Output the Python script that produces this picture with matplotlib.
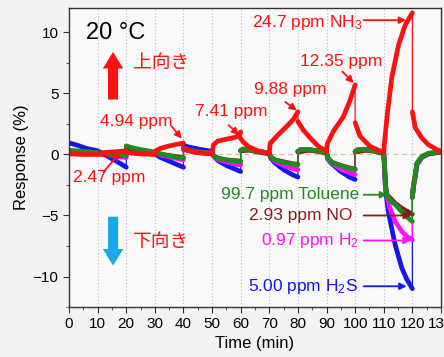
import numpy as np
import matplotlib
matplotlib.use("Agg")
import matplotlib.pyplot as plt

plt.rcParams['font.family'] = ['Liberation Sans', 'Noto Sans CJK JP', 'DejaVu Sans']
plt.rcParams['mathtext.fontset'] = 'custom'
plt.rcParams['mathtext.rm'] = 'Liberation Sans'
plt.rcParams['mathtext.it'] = 'Liberation Sans:italic'

# time (min) and response (%); repeated times = step jumps
nh3_t = [0, 5, 10, 12, 15, 18, 20, 20, 22, 25, 30,
         30.3, 32, 35, 38, 40, 40, 42, 45, 50,
         50.5, 52, 55, 58, 59.7, 60, 60, 61, 63, 66, 70,
         70.3, 72.6, 76.1, 78.5, 80, 80, 81.9, 84.3, 87.2, 90,
         90.3, 92.4, 95.9, 98, 100, 100, 101.7, 105.2, 110,
         110.2, 111.1, 112.8, 115.2, 117.5, 120, 120, 121, 123.3, 125.6, 128.6, 129.7]
nh3_v = [0.05, 0.0, 0.0, 0.15, 0.2, 0.25, 0.3, 0.2, 0.1, 0.05, 0.0,
         0.3, 0.5, 0.7, 0.85, 0.93, 0.5, 0.3, 0.15, 0.05,
         0.8, 1.1, 1.25, 1.4, 1.6, 1.85, 1.3, 1.0, 0.6, 0.3, 0.1,
         0.9, 1.5, 2.3, 2.9, 3.5, 2.7, 2.0, 1.35, 0.66, 0.25,
         0.9, 1.9, 3.1, 4.3, 5.7, 2.6, 1.5, 0.66, 0.15,
         0.8, 3.0, 6.3, 9.0, 10.6, 11.6, 3.5, 2.2, 1.35, 0.8, 0.4, 0.3]

tol_t = [0, 5, 10, 12, 15, 18, 20, 20, 22, 25, 30,
         32, 35, 38, 40, 40, 42, 45, 50,
         50.5, 52, 55, 58, 60, 60, 61, 63, 66, 70,
         70.5, 72, 75, 78, 80, 80, 81, 84, 87, 90,
         90.5, 92, 95, 98, 100, 100, 101, 104, 107, 110,
         110.3, 110.6, 111.1, 112, 114, 116.3, 118, 120, 120, 120.4, 121, 121.6, 123.3, 125.6, 129.7]
tol_v = [0.35, 0.25, 0.15, 0.1, 0.0, -0.05, -0.1, 0.7, 0.55, 0.4, 0.2,
         0.05, -0.1, -0.25, -0.3, 0.5, 0.35, 0.2, 0.1,
         -0.1, -0.3, -0.45, -0.55, -0.6, 0.35, 0.45, 0.4, 0.25, 0.1,
         -0.2, -0.45, -0.65, -0.8, -0.85, 0.25, 0.4, 0.4, 0.3, 0.15,
         -0.3, -0.7, -0.95, -1.15, -1.25, 0.25, 0.4, 0.4, 0.3, 0.1,
         -1.0, -2.5, -3.3, -3.7, -4.1, -4.7, -5.1, -5.5, -3.5, -2.5, -1.66, -0.7, -0.16, 0.1, 0.25]

no_t = [0, 10, 12, 15, 20, 20, 25, 30,
        35, 40, 40, 45, 50,
        50.5, 52, 55, 58, 60, 60, 63, 66, 70,
        70.5, 72, 75, 78, 80, 80, 84, 87, 90,
        90.5, 92, 95, 98, 100, 100, 104, 107, 110,
        110.3, 110.6, 111.1, 114, 116.3, 120, 120, 120.4, 121, 121.6, 123.3, 125.6, 129.7]
no_v = [0.1, 0.05, 0.0, -0.05, -0.1, 0.5, 0.3, 0.1,
        -0.1, -0.25, 0.4, 0.15, 0.05,
        -0.1, -0.3, -0.45, -0.5, -0.55, 0.3, 0.35, 0.2, 0.05,
        -0.2, -0.45, -0.6, -0.75, -0.8, 0.2, 0.35, 0.25, 0.1,
        -0.3, -0.65, -0.9, -1.1, -1.2, 0.2, 0.35, 0.25, 0.05,
        -1.0, -2.5, -3.3, -4.0, -4.4, -4.9, -3.5, -2.5, -1.7, -0.75, -0.2, 0.05, 0.2]

h2_t = [0, 10, 12, 15, 18, 20, 20, 22, 25, 30,
        32, 35, 38, 40, 40, 42, 45, 50,
        50.5, 52, 55, 58, 60, 60, 61, 63, 66, 70,
        70.5, 72, 75, 78, 80, 80, 81, 84, 87, 90,
        90.5, 92, 95, 98, 100, 100, 101, 104, 107, 110,
        110.3, 110.6, 111.1, 112, 114, 116.3, 118, 120, 120, 120.4, 121, 121.6, 123.3, 125.6, 129.7]
h2_v = [0.2, 0.1, 0.0, -0.1, -0.2, -0.25, 0.6, 0.5, 0.35, 0.15,
        -0.05, -0.2, -0.35, -0.45, 0.5, 0.35, 0.2, 0.1,
        -0.15, -0.4, -0.6, -0.8, -0.85, 0.3, 0.42, 0.4, 0.25, 0.1,
        -0.25, -0.55, -0.9, -1.15, -1.25, 0.25, 0.38, 0.38, 0.3, 0.15,
        -0.35, -0.75, -1.2, -1.5, -1.65, 0.25, 0.38, 0.38, 0.3, 0.1,
        -1.1, -2.8, -3.3, -4.3, -5.5, -6.3, -6.7, -7.0, -3.5, -2.6, -1.8, -0.8, -0.25, 0.05, 0.2]

h2s_t = [0, 3, 6, 10, 12, 15, 18, 20, 20, 22, 25, 30,
         32, 35, 38, 40, 40, 42, 45, 50,
         50.5, 52, 55, 58, 60, 60, 61, 63, 66, 70,
         70.5, 72, 75, 78, 80, 80, 81, 84, 87, 90,
         90.5, 92, 95, 98, 100, 100, 101, 104, 107, 110,
         110.3, 110.6, 111.6, 113, 114, 116.3, 118, 120, 120, 120.4, 121, 121.6, 123.3, 125.6, 129.7]
h2s_v = [0.95, 0.75, 0.5, 0.3, 0.05, -0.35, -0.75, -1.05, 0.65, 0.5, 0.3, 0.05,
         -0.25, -0.55, -0.85, -1.05, 0.75, 0.6, 0.45, 0.25,
         -0.1, -0.5, -0.9, -1.2, -1.4, 0.3, 0.4, 0.4, 0.25, 0.1,
         -0.3, -0.7, -1.25, -1.65, -1.85, 0.25, 0.38, 0.38, 0.3, 0.15,
         -0.4, -0.8, -1.4, -1.85, -2.05, 0.25, 0.38, 0.38, 0.3, 0.1,
         -1.2, -2.8, -4.7, -6.3, -7.4, -9.3, -10.2, -11.0, -3.5, -2.6, -1.8, -0.8, -0.25, 0.05, 0.2]

RED = '#ff1010'
GREEN = '#1f8c1f'
BROWN = '#8b1c1c'
MAGENTA = '#ff10ff'
BLUE = '#1515f0'
SKY = '#1aa8e8'


def thick_parts(t, v):
    # break the line at the vertical jumps so they stay thin
    t = np.asarray(t, float)
    v = np.asarray(v, float)
    tt, vv = [t[0]], [v[0]]
    for i in range(1, len(t)):
        if t[i] == t[i - 1]:
            tt.append(np.nan)
            vv.append(np.nan)
        tt.append(t[i])
        vv.append(v[i])
    return tt, vv


fig = plt.figure(figsize=(4.44, 3.57), dpi=100, facecolor='#f3f3f3')
ax = fig.add_axes([0.1554, 0.140, 0.8378, 0.8376])
ax.set_facecolor('#f9f9f9')

for xv in range(10, 130, 10):
    ax.axvline(xv, color='#bdbdbd', lw=0.8, ls=(0, (1, 2)), zorder=0)
ax.axhline(0, color='#f3b98a', lw=0.9, ls=(0, (4, 3)), zorder=0)

series = [(h2s_t, h2s_v, BLUE), (h2_t, h2_v, MAGENTA), (no_t, no_v, BROWN),
          (tol_t, tol_v, GREEN), (nh3_t, nh3_v, RED)]
for t, v, c in series:
    ax.plot(t, v, color=c, lw=0.9, zorder=2)
    tt, vv = thick_parts(t, v)
    ax.plot(tt, vv, color=c, lw=3.4, solid_capstyle='round', zorder=2)

ax.set_xlim(0, 130)
ax.set_ylim(-12.5, 12)
ax.set_xticks(np.arange(0, 131, 10))
ax.set_xticks(np.arange(0, 131, 5), minor=True)
ax.set_yticks([-10, -5, 0, 5, 10])
ax.set_yticks(np.arange(-12.5, 12.1, 2.5), minor=True)
ax.tick_params(which='both', direction='out', labelsize=11, color='#333333')
ax.tick_params(which='major', length=4)
ax.tick_params(which='minor', length=2.5)
ax.tick_params(axis='x', pad=3)
for s in ax.spines.values():
    s.set_color('#333333')
    s.set_linewidth(1.0)

ax.set_xlabel('Time (min)', fontsize=12, labelpad=4)
ax.set_ylabel('Response (%)', fontsize=12, labelpad=3)

ax.text(5.9, 9.5, '20 °C', fontsize=17, va='baseline', ha='left')

big = dict(color=RED, shrinkA=0, shrinkB=0,
           arrowstyle='simple,head_length=0.85,head_width=1.05,tail_width=0.52',
           mutation_scale=14, lw=0)
ax.annotate('', xy=(15.4, 8.4), xytext=(15.4, 4.5), arrowprops=big)
big_down = dict(big, color=SKY)
ax.annotate('', xy=(15.4, -9.1), xytext=(15.4, -5.1), arrowprops=big_down)
ax.text(22.4, 7.5, '上向き', color=RED, fontsize=13.5, va='center', ha='left',
        family=['Noto Sans CJK JP'])
ax.text(22.4, -7.1, '下向き', color=RED, fontsize=13.5, va='center', ha='left',
        family=['Noto Sans CJK JP'])


def label(txt, pos, tail, head, color, ha='left'):
    ax.text(pos[0], pos[1], txt, color=color, fontsize=12.5, ha=ha, va='center')
    ax.annotate('', xy=head, xytext=tail,
                arrowprops=dict(arrowstyle='-|>', color=color, lw=1.3,
                                mutation_scale=10, shrinkA=0, shrinkB=0))


label('2.47 ppm', (1.4, -1.9), (12, -1.45), (17.8, 0.15), RED)
label('4.94 ppm', (10.8, 2.7), (35.9, 2.3), (39.4, 1.3), RED)
label('7.41 ppm', (44, 3.5), (55.8, 2.4), (59.4, 1.6), RED)
label('9.88 ppm', (64.6, 5.3), (75.6, 4.3), (79.6, 3.6), RED)
label('12.35 ppm', (80.8, 7.6), (95.5, 6.8), (99.5, 5.85), RED)
label('24.7 ppm NH$_3$', (64, 10.8), (103, 11.0), (117.8, 11.0), RED)

label('99.7 ppm Toluene', (101.3, -3.3), (103, -3.3), (111.2, -3.3), GREEN, ha='right')
label('2.93 ppm NO', (99, -5.0), (103, -5.0), (119.5, -5.0), BROWN, ha='right')
label('0.97 ppm H$_2$', (101.3, -7.05), (103, -7.05), (119.4, -7.05), MAGENTA, ha='right')
label('5.00 ppm H$_2$S', (101.1, -10.8), (103, -10.8), (118, -10.8), BLUE, ha='right')

fig.savefig('out.png', dpi=100, facecolor=fig.get_facecolor())
